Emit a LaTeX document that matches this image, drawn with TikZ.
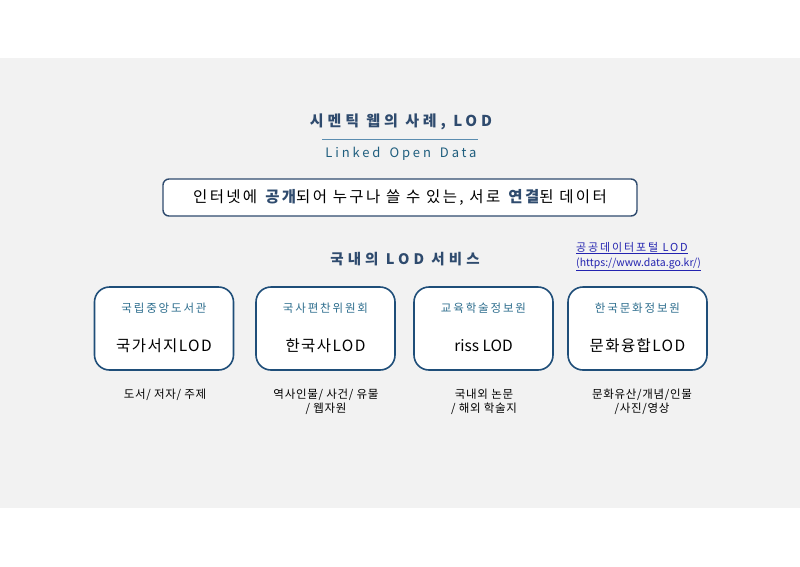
\documentclass[tikz,border=0pt]{standalone}
\usepackage{fontspec}
\setmainfont{Noto Sans CJK KR}
\newfontfamily\krtitle[LetterSpace=26]{Noto Sans CJK KR}
\newfontfamily\krsec[LetterSpace=28]{Noto Sans CJK KR}
\newfontfamily\krwide[LetterSpace=22]{Noto Sans CJK KR}
\newfontfamily\krdef[LetterSpace=15]{Noto Sans CJK KR}
\newfontfamily\krhdr[LetterSpace=16]{Noto Sans CJK KR}
\newfontfamily\krmain[LetterSpace=9]{Noto Sans CJK KR}
\newfontfamily\krsm[LetterSpace=6]{Noto Sans CJK KR}
\newfontfamily\krlink[LetterSpace=17]{Noto Sans CJK KR}
\definecolor{bgc}{HTML}{F2F2F2}
\definecolor{boxc}{HTML}{1F4E79}
\definecolor{titlec}{HTML}{2F4B6E}
\definecolor{subc}{HTML}{1F5E7E}
\definecolor{hdrc}{HTML}{2E6E8E}
\definecolor{rulec}{HTML}{5B8DB0}
\definecolor{linkc}{HTML}{2323B0}
\begin{document}
\begin{tikzpicture}[x=1pt,y=-1pt,
  svcbox/.style={draw=boxc, line width=1.6pt, fill=white, rounded corners=15pt,
    minimum width=139pt, minimum height=83pt, inner sep=0pt},
  hdr/.style={text=hdrc, font=\krhdr\fontsize{11.5}{13}\selectfont, inner sep=0pt},
  mainlbl/.style={text=black, font=\krmain\fontsize{15.5}{18}\selectfont, inner sep=0pt},
  sublbl/.style={text=black, font=\krsm\fontsize{11.5}{13.5}\selectfont, align=center, inner sep=0pt, anchor=north},
  ]
\useasboundingbox (0,0) rectangle (800,566);
\fill[bgc] (0,58) rectangle (800,508);

% title
\node[text=titlec, font=\krtitle\bfseries\fontsize{15}{18}\selectfont, inner sep=0pt] (title) at (401,122) {시멘틱 웹의 사례, LOD};
\coordinate (rl) at (322,139);
\coordinate (rr) at (478,139);
\draw[rulec, line width=1pt] (rl) -- (rr);
\node[text=subc, font=\krwide\fontsize{13}{15}\selectfont, inner sep=0pt] (sub) at (401,154) {Linked\hspace{9pt}Open\hspace{9pt}Data};

% definition box
\node[draw=titlec, line width=1.4pt, fill=white, rounded corners=6pt,
  minimum width=474pt, minimum height=37pt, inner sep=0pt] (def) at (400,197.5) {};
\node[font=\krdef\fontsize{15.5}{18}\selectfont, inner sep=0pt] (deft) at ([xshift=0pt]def.center)
  {인터넷에 \textbf{\textcolor{titlec}{공개}}되어 누구나 쓸 수 있는, 서로 \textbf{\textcolor{titlec}{연결}}된 데이터};

% section title
\node[text=titlec, font=\krsec\bfseries\fontsize{14.5}{17}\selectfont, inner sep=0pt] (sec) at (405,259) {국내의 LOD 서비스};

% link
\node[text=linkc, font=\fontsize{10.5}{15}\selectfont, align=left, inner sep=0pt, anchor=north west] (link) at (576,242)
  {\underline{{\krlink\fontsize{11}{15}\selectfont 공공데이터포털 LOD}}\\\underline{(https://www.data.go.kr/)}};

% boxes
\node[svcbox] (b1) at (164,328.5) {};
\node[svcbox] (b2) at (325.5,328.5) {};
\node[svcbox] (b3) at (483.5,328.5) {};
\node[svcbox] (b4) at (637.5,328.5) {};

\node[hdr] (h1) at ([yshift=20.5pt]b1.center) {국립중앙도서관};
\node[hdr] (h2) at ([yshift=20.5pt]b2.center) {국사편찬위원회};
\node[hdr] (h3) at ([yshift=20.5pt]b3.center) {교육학술정보원};
\node[hdr] (h4) at ([yshift=20.5pt]b4.center) {한국문화정보원};

\node[mainlbl] (m1) at ([yshift=-17pt]b1.center) {국가서지LOD};
\node[mainlbl] (m2) at ([yshift=-17pt]b2.center) {한국사LOD};
\node[mainlbl, font=\fontsize{15.5}{18}\selectfont] (m3) at ([yshift=-17pt]b3.center) {riss LOD};
\node[mainlbl] (m4) at ([yshift=-17pt]b4.center) {문화융합LOD};

\node[sublbl] (s1) at (165,389) {도서/ 저자/ 주제};
\node[sublbl] (s2) at (326,389) {역사인물/ 사건/ 유물\\/ 웹자원};
\node[sublbl] (s3) at (484,389) {국내외 논문\\/ 해외 학술지};
\node[sublbl] (s4) at (642,389) {문화유산/개념/인물\\/사진/영상};
\end{tikzpicture}
\end{document}
